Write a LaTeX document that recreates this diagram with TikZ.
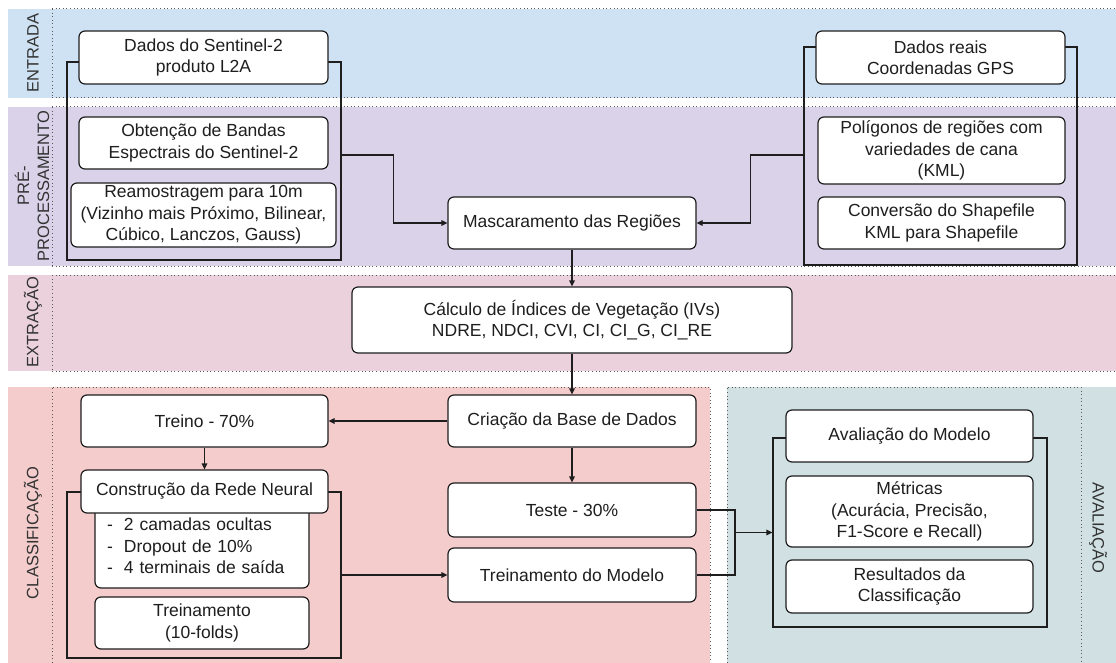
\documentclass[tikz,border=0pt]{standalone}
\usepackage{fontspec}
\setmainfont{Liberation Sans}
\usetikzlibrary{arrows.meta,calc}

\definecolor{laneIn}{HTML}{CFE2F3}
\definecolor{lanePre}{HTML}{D9D2E9}
\definecolor{laneExt}{HTML}{EAD1DC}
\definecolor{laneCls}{HTML}{F4CCCC}
\definecolor{laneEva}{HTML}{D0E0E3}
\definecolor{ink}{HTML}{1E1E1E}
\definecolor{lanetext}{HTML}{333333}
\definecolor{dotline}{HTML}{5A5A5A}

\begin{document}
\begin{tikzpicture}[x=1pt,y=-1pt,
  box/.style={draw=ink, fill=white, rounded corners=6pt, line width=1.2pt,
    align=center, inner sep=0pt, text=ink,
    font=\fontsize{17.5}{21.5}\selectfont},
  grp/.style={draw=ink, line width=1.2pt, inner sep=0pt},
  lanelabel/.style={text=lanetext, align=center, inner sep=0pt,
    font=\fontsize{16.5}{20}\selectfont},
  border/.style={draw=dotline, line width=1pt, dash pattern=on 1pt off 2.6pt},
  link/.style={draw=ink, line width=1.2pt},
  arr/.style={link, -{Triangle[length=6pt,width=5.5pt]}}
]
\useasboundingbox (0,0) rectangle (1116,663);

% ---- swimlane backgrounds ----
\fill[laneIn]  (7.5,9)   rectangle (1116,98);
\fill[lanePre] (7.5,107) rectangle (1116,266);
\fill[laneExt] (7.5,275) rectangle (1116,371);
\fill[laneCls] (7.5,387) rectangle (710,663);
\fill[laneEva] (727,387) rectangle (1116,663);

% ---- dotted lane borders ----
\draw[border] (52,9) -- (1116,9) (52,98) -- (1116,98) (52,9) -- (52,98);
\draw[border] (52,107) -- (1116,107) (52,266) -- (1116,266) (52,107) -- (52,266);
\draw[border] (52,275) -- (1116,275) (52,371) -- (1116,371) (52,275) -- (52,371);
\draw[border] (52,663) -- (52,387) -- (710,387) -- (710,663);
\draw[border] (727,663) -- (727,387) -- (1081,387);
\draw[border] (1081,387) -- (1081,663);

% ---- lane titles ----
\node[lanelabel, rotate=90]  (tIn)  at (33,53)   {ENTRADA};
\node[lanelabel, rotate=90]  (tPre) at (32,186)  {PRÉ-\\PROCESSAMENTO};
\node[lanelabel, rotate=90]  (tExt) at (33,322)  {EXTRAÇÃO};
\node[lanelabel, rotate=90]  (tCls) at (33,533)  {CLASSIFICAÇÃO};
\node[lanelabel, rotate=-90] (tEva) at (1098,528) {AVALIAÇÃO};

% ---- grouping frames ----
\node[grp, minimum width=274pt, minimum height=198pt] (gleft)  at (204,161) {};
\node[grp, minimum width=273pt, minimum height=218pt] (gright) at (940.5,156) {};
\node[grp, minimum width=274pt, minimum height=166pt] (gnn)    at (204,575) {};
\node[grp, minimum width=274pt, minimum height=189pt] (geval)  at (910,532.5) {};

% ---- input and preprocessing ----
\node[box, minimum width=249pt, minimum height=53pt] (s2)   at (203.5,57.5) {Dados do Sentinel-2\\produto L2A};
\node[box, minimum width=249pt, minimum height=52pt] (band) at (203.5,143)  {Obtenção de Bandas\\Espectrais do Sentinel-2};
\node[box, minimum width=265pt, minimum height=64pt] (res)  at (203.5,215)  {Reamostragem para 10m\\(Vizinho mais Próximo, Bilinear,\\Cúbico, Lanczos, Gauss)};
\node[box, minimum width=248pt, minimum height=52pt] (mask) at (572,223)    {Mascaramento das Regiões};
\node[box, minimum width=249pt, minimum height=53pt] (gps)  at (940.5,57.5) {Dados reais\\Coordenadas GPS};
\node[box, minimum width=247pt, minimum height=67pt] (poly) at (941.5,150.5) {Polígonos de regiões com\\variedades de cana\\(KML)};
\node[box, minimum width=247pt, minimum height=52pt] (conv) at (941.5,223)  {Conversão do Shapefile\\KML para Shapefile};

% ---- extraction ----
\node[box, minimum width=440pt, minimum height=66pt] (iv) at (572,320) {Cálculo de Índices de Vegetação (IVs)\\NDRE, NDCI, CVI, CI, CI\_G, CI\_RE};

% ---- classification ----
\node[box, minimum width=248pt, minimum height=52pt] (db)    at (572,421)   {Criação da Base de Dados};
\node[box, minimum width=247pt, minimum height=52pt] (train) at (204.5,421) {Treino - 70\%};
\node[box, text width=190pt, inner xsep=12pt, align=left, minimum height=84pt] (layers) at (202,546)
  {\makebox[17pt][l]{-}2 camadas ocultas\\\makebox[17pt][l]{-}Dropout de 10\%\\\makebox[17pt][l]{-}4 terminais de saída};
\node[box, minimum width=247pt, minimum height=43pt] (nn)    at (204.5,491.5) {Construção da Rede Neural};
\node[box, minimum width=214pt, minimum height=52pt] (folds) at (202,623)   {Treinamento\\(10-folds)};
\node[box, minimum width=248pt, minimum height=54pt] (test)  at (572,510)   {Teste - 30\%};
\node[box, minimum width=248pt, minimum height=54pt] (fit)   at (572,575)   {Treinamento do Modelo};

% ---- evaluation ----
\node[box, minimum width=247pt, minimum height=52pt] (eval)    at (909.5,436)   {Avaliação do Modelo};
\node[box, minimum width=247pt, minimum height=71pt] (metrics) at (909.5,511.5) {Métricas\\(Acurácia, Precisão,\\F1-Score e Recall)};
\node[box, minimum width=247pt, minimum height=53pt] (results) at (909.5,586.5) {Resultados da\\Classificação};

% ---- connectors ----
\draw[arr] ($(gleft.east)+(0,-6)$) -- ++(52,0) |- (mask.west);
\draw[arr] ($(gright.west)+(0,-1)$) -- ++(-53,0) |- (mask.east);
\draw[arr] (mask.south) -- (iv.north);
\draw[arr] (iv.south) -- (db.north);
\draw[arr] (db.west) -- (train.east);
\draw[arr] (train.south) -- (nn.north);
\draw[arr] (db.south) -- (test.north);
\draw[arr] (gnn.east) -- (fit.west);
\coordinate (merge) at (735,532.5);
\draw[link] (test.east) -| (merge);
\draw[link] (fit.east) -| (merge);
\draw[arr] (merge) -- (geval.west);
\end{tikzpicture}
\end{document}
